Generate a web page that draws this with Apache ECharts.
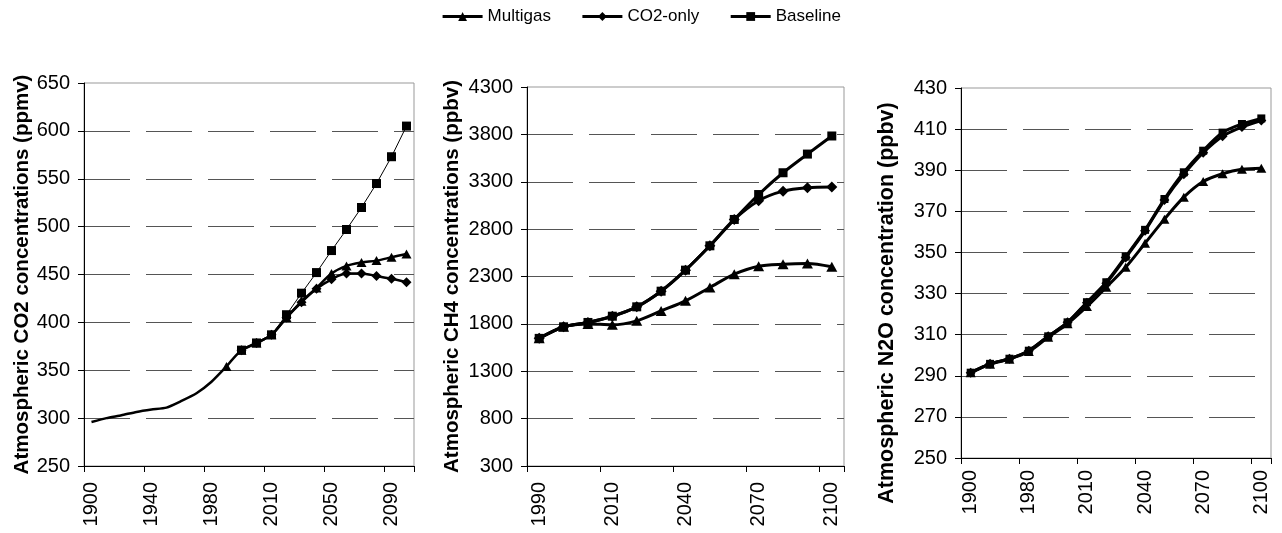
<!DOCTYPE html>
<html>
<head>
<meta charset="utf-8">
<script src="https://cdn.jsdelivr.net/npm/echarts@6/dist/echarts.min.js"></script>
<style>
html,body{margin:0;padding:0;background:#fff;}
#chart{width:1282px;height:533px;}
</style>
</head>
<body>
<div id="chart"></div>
<script>
// ---------- categories ----------
const co2Years = ['1900','1910','1920','1930','1940','1950','1960','1970','1980','1990','2000','2005','2010','2020','2030','2040','2050','2060','2070','2080','2090','2100'];
const ch4Years = ['1990','2000','2005','2010','2020','2030','2040','2050','2060','2070','2080','2090','2100'];
const n2oYears = ['1900','1950','1970','1980','1990','2000','2010','2020','2030','2040','2050','2060','2070','2080','2090','2100'];

// ---------- CO2 (ppmv) ----------
const co2History  = [296, 300, 303, 306.5, 309, 311, 318, 326, 338, 354, null, null, null, null, null, null, null, null, null, null, null, null];
const co2Multigas = [null, null, null, null, null, null, null, null, null, 354, 371, 378.5, 387, 405, 422, 436, 451, 459, 462.5, 464.5, 468, 471.5];
const co2CO2only  = [null, null, null, null, null, null, null, null, null, null, 371, 378.5, 387, 405, 421, 435, 445, 451, 451, 448.5, 445.5, 442];
const co2Baseline = [null, null, null, null, null, null, null, null, null, null, 371, 378.5, 387, 408, 430.5, 452, 475, 497, 520, 545, 573, 605];

// ---------- CH4 (ppbv) ----------
const ch4Multigas = [1647, 1769, 1800, 1790, 1832, 1937, 2043, 2184, 2325, 2409, 2430, 2437, 2402];
const ch4CO2only  = [1647, 1769, 1815, 1881, 1980, 2145, 2367, 2624, 2902, 3100, 3201, 3237, 3245];
const ch4Baseline = [1647, 1769, 1815, 1881, 1980, 2145, 2367, 2624, 2902, 3165, 3395, 3592, 3783];

// ---------- N2O (ppbv) ----------
const n2oMultigas = [291.5, 295.6, 298.1, 301.8, 308.8, 315.3, 323.7, 333.1, 342.8, 354.5, 366.2, 376.9, 384.5, 388.3, 390.5, 391];
const n2oCO2only  = [291.5, 295.8, 298.3, 302.2, 309.2, 316, 325.5, 335, 347.5, 360.5, 375.5, 388, 398.5, 406.5, 411, 414.2];
const n2oBaseline = [291.5, 295.8, 298.3, 302.2, 309.2, 316, 325.8, 335.5, 348, 361, 376, 389, 399.5, 408.3, 412.5, 415.2];

// ---------- axis ranges / titles ----------
const co2Axis = {min: 250, max: 650, interval: 50, title: 'Atmospheric CO2 concentrations (ppmv)'};
const ch4Axis = {min: 300, max: 4300, interval: 500, title: 'Atmospheric CH4 concentrations (ppbv)'};
const n2oAxis = {min: 250, max: 430, interval: 20, title: 'Atmospheric N2O concentration (ppbv)'};
const seriesNames = ['Multigas', 'CO2-only', 'Baseline'];

const FONT = '"Liberation Sans", Arial, sans-serif';

function xAxis(gridIndex, data, step, margin) {
  return {
    type: 'category', gridIndex: gridIndex, data: data, boundaryGap: true,
    axisLine: {show: true, lineStyle: {color: '#000', width: 1}},
    axisTick: {show: true, interval: step - 1, length: 6, lineStyle: {color: '#000'}},
    axisLabel: {interval: step - 1, rotate: 90, margin: margin, fontSize: 20, color: '#000', fontFamily: FONT},
    splitLine: {show: false}
  };
}
function yAxis(gridIndex, ax, nameGap, titleSize, pad) {
  return {
    type: 'value', gridIndex: gridIndex, min: ax.min, max: ax.max, interval: ax.interval,
    name: ax.title, nameLocation: 'middle', nameGap: nameGap,
    nameTextStyle: {fontSize: titleSize, fontWeight: 'bold', color: '#000', fontFamily: FONT, padding: pad},
    axisLine: {show: true, lineStyle: {color: '#000', width: 1}},
    axisTick: {show: true, length: 6, lineStyle: {color: '#000'}},
    axisLabel: {margin: 14, fontSize: 20, color: '#000', fontFamily: FONT, formatter: v => String(v)},
    splitLine: {show: true, showMinLine: false, showMaxLine: false,
      lineStyle: {color: '#555', width: 1, type: [46, 16]}}
  };
}
function line(name, gi, data, symbol, size, width, smooth) {
  return {
    name: name, type: 'line', xAxisIndex: gi, yAxisIndex: gi, data: data,
    symbol: symbol, symbolSize: size, smooth: smooth, showSymbol: symbol !== 'none',
    lineStyle: {color: '#000', width: width},
    itemStyle: {color: '#000'},
    emphasis: {disabled: true}, animation: false, z: 3
  };
}

const chart = echarts.init(document.getElementById('chart'), null, {renderer: 'canvas'});
chart.setOption({
  backgroundColor: '#fff',
  animation: false,
  legend: {
    data: seriesNames, top: 3, left: 'center', itemWidth: 40, itemHeight: 11, itemGap: 30,
    lineStyle: {width: 3, color: '#000'},
    itemStyle: {color: '#000'},
    textStyle: {fontSize: 17, color: '#000', fontFamily: FONT},
    selectedMode: false
  },
  grid: [
    {left: 84, top: 83, width: 330, height: 383, show: true, borderColor: '#999', borderWidth: 1},
    {left: 527, top: 87, width: 317, height: 379, show: true, borderColor: '#999', borderWidth: 1},
    {left: 961, top: 88, width: 310, height: 370, show: true, borderColor: '#999', borderWidth: 1}
  ],
  xAxis: [xAxis(0, co2Years, 4, 16), xAxis(1, ch4Years, 3, 16), xAxis(2, n2oYears, 3, 12)],
  yAxis: [yAxis(0, co2Axis, 50, 20.5, 0), yAxis(1, ch4Axis, 64, 20.5, 0), yAxis(2, n2oAxis, 63, 21.5, [0, 60, 0, 0])],
  series: [
    // CH4 panel (listed first so legend icons use its thick lines)
    line(seriesNames[2], 1, ch4Baseline, 'rect', 9, 3, 0.3),
    line(seriesNames[1], 1, ch4CO2only, 'diamond', 11, 3, 0.3),
    line(seriesNames[0], 1, ch4Multigas, 'triangle', [11, 10], 3, 0.3),
    // CO2 panel
    line('history', 0, co2History, 'none', 0, 2.5, 0.2),
    line(seriesNames[2], 0, co2Baseline, 'rect', 9, 1, false),
    line(seriesNames[1], 0, co2CO2only, 'diamond', 10, 2.5, 0.3),
    line(seriesNames[0], 0, co2Multigas, 'triangle', [10, 9], 2.5, 0.3),
    // N2O panel
    line(seriesNames[2], 2, n2oBaseline, 'rect', 8, 3, 0.3),
    line(seriesNames[1], 2, n2oCO2only, 'diamond', 10, 3, 0.3),
    line(seriesNames[0], 2, n2oMultigas, 'triangle', [10, 9], 3, 0.3)
  ]
});
</script>
</body>
</html>
